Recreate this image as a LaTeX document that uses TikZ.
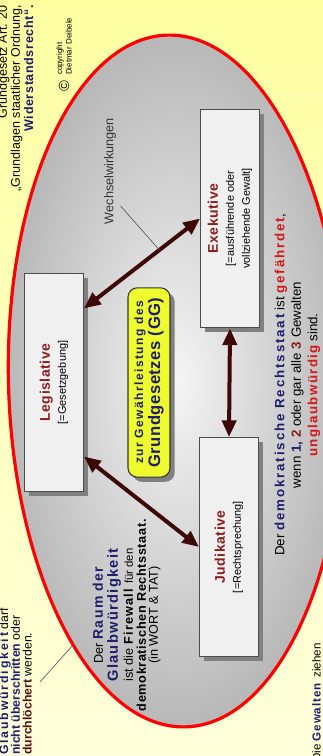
\documentclass[tikz,border=0pt]{standalone}
\usepackage{fontspec}
\setmainfont{Liberation Sans}
\usetikzlibrary{
  positioning,
  arrows.meta,
  shapes.geometric,
  shadows,
  calc
}
\definecolor{papier}{HTML}{FFFFBE}
\definecolor{marine}{HTML}{1E1E6C}
\definecolor{gewaltrot}{HTML}{8C1C1C}
\definecolor{warnrot}{HTML}{D41818}
\definecolor{pfeil}{HTML}{3E0808}
\definecolor{gesetz}{HTML}{EEFB2E}
\newcommand{\gesperrt}[2][8]{{\addfontfeature{LetterSpace=#1}#2}}
\newcommand{\gewalt}[1]{{\fontsize{10.5}{12}\selectfont\bfseries\color{gewaltrot}\gesperrt[4]{#1}}}
\newcommand{\zusatz}[1]{[=#1]}

\begin{document}
\begin{tikzpicture}[
  rotate=90, transform shape, x=0.75pt, y=0.75pt,
  abox/.style={draw=black!70, line width=0.9pt, fill=black!6, minimum width=164pt,
               minimum height=44pt, align=center, font=\fontsize{8.2}{12}\selectfont,
               drop shadow={shadow xshift=3.5pt, shadow yshift=-3.5pt, fill=black!50, opacity=1}},
  ggbox/.style={draw=black!80, line width=0.8pt, fill=gesetz, rounded corners=7pt,
               minimum width=142pt, minimum height=31.5pt, align=center, text=marine,
               font=\fontsize{9}{12.75}\selectfont\bfseries,
               drop shadow={shadow xshift=3.5pt, shadow yshift=-3.5pt, fill=black!50, opacity=1}},
  arr/.style={{Triangle[length=12.5pt,width=10.5pt]}-{Triangle[length=12.5pt,width=10.5pt]}, line width=3pt, pfeil},
  zeiger/.style={draw=black!65, line width=0.5pt},
]
  % Hintergrund
  \useasboundingbox (0,0) rectangle (756,323);
  \clip (0,0) rectangle (756,323);
  \shade[top color=papier!85!yellow, bottom color=papier!55!white] (0,0) rectangle (756,323);

  % Raum der Glaubwuerdigkeit
  \node[ellipse, draw=red, line width=2.4pt, inner color=black!4, outer color=black!28,
        minimum width=519pt, minimum height=252pt, rotate=1.5] (raum) at (375,146.5) {};

  % die drei Gewalten
  \node[abox] (leg) at (373.5,269) {\gewalt{Legislative}\\\zusatz{Gesetzgebung}};
  \node[abox] (exe) at (537.5,93) {\gewalt{Exekutive}\\\zusatz{ausführende oder\\vollziehende Gewalt}};
  \node[abox] (jud) at (209,94) {\gewalt{Judikative}\\\zusatz{Rechtsprechung}};
  \node[ggbox] (gg) at (373.5,174) {\gesperrt[12]{zur Gewährleistung des}\\{\fontsize{12.5}{13}\selectfont\gesperrt[3]{Grundgesetzes (GG)}}};

  \draw[arr] ($(leg.south)+(74,0)$) -- coordinate[pos=0.65] (ww) (exe.north);
  \draw[arr] ($(leg.south)+(-74,0)$) -- (jud.north);
  \draw[arr] (jud.east) -- (exe.west);

  \node[font=\fontsize{9.5}{11}\selectfont, text=black!80] (wwtext) at (585,213) {Wechselwirkungen};
  \draw[zeiger] ([xshift=17pt]wwtext.south west) -- (ww);

  % Texte im Raum
  \node[align=center, inner sep=0, font=\fontsize{9.5}{11.25}\selectfont] (firewall) at (141,196.5)
    {Der \textcolor{marine}{\fontsize{10.5}{11}\selectfont\bfseries\gesperrt[10]{Raum der}}\\
     \textcolor{marine}{\fontsize{11}{11}\selectfont\bfseries\gesperrt[9]{Glaubwürdigkeit}}\\
     ist die \textbf{\gesperrt[10]{Firewall}} {\fontsize{8.5}{9}\selectfont für den}\\[-1.5pt]
     \textbf{\gesperrt[5]{demokratischen Rechtsstaat.}}\\[-2.25pt]
     (in WORT \& TAT)};

  \node[align=center, inner sep=0, font=\fontsize{10}{12.4}\selectfont] (gefahr) at (371,25.5)
    {Der \textcolor{marine}{\bfseries\gesperrt[14]{demokratische Rechtsstaat}} ist
     \textcolor{warnrot}{\bfseries\gesperrt[14]{gefährdet}},\\
     wenn \textcolor{marine}{\bfseries 1,} \textcolor{gewaltrot}{\bfseries 2} oder gar alle
     \textcolor{gewaltrot}{\bfseries 3} Gewalten\\
     \textcolor{warnrot}{\bfseries\gesperrt[10]{unglaubwürdig}} sind.};

  % Randtexte
  \node[anchor=east, align=right, inner sep=0, font=\fontsize{9.4}{9.8}\selectfont] (art20) at (751,307.5)
    {Grundgesetz Art. 20\\
     „Grundlagen staatlicher Ordnung,\\
     \textcolor{marine}{\bfseries\gesperrt[5]{Widerstandsrecht“.}}};

  \node[font=\fontsize{11}{11}\selectfont] (copy) at (670,259) {©};
  \node[right=0.5pt of copy, align=left, inner sep=0, font=\fontsize{6}{7}\selectfont] (autor)
    {copyright\\Dietmar Deibele};

  \node[anchor=west, align=left, inner sep=0, font=\fontsize{9.2}{8.9}\selectfont] (grenze) at (1,307.5)
    {\textcolor{marine}{\bfseries\gesperrt[15]{Glaubwürdigkeit}} darf\\
     \textcolor{marine}{\bfseries nicht überschritten} oder\\
     \textcolor{gewaltrot!60!black}{\bfseries durchlöchert} werden.};
  \coordinate (zeigerfuss) at (74,283);
  \draw[zeiger] (zeigerfuss) -- (raum.157);

  \node[anchor=east, inner sep=0, font=\fontsize{8.7}{9}\selectfont] (ziehen) at (113,6.5)
    {Die \textcolor{marine}{\bfseries\gesperrt[8]{Gewalten}}\enspace ziehen};
\end{tikzpicture}
\end{document}
